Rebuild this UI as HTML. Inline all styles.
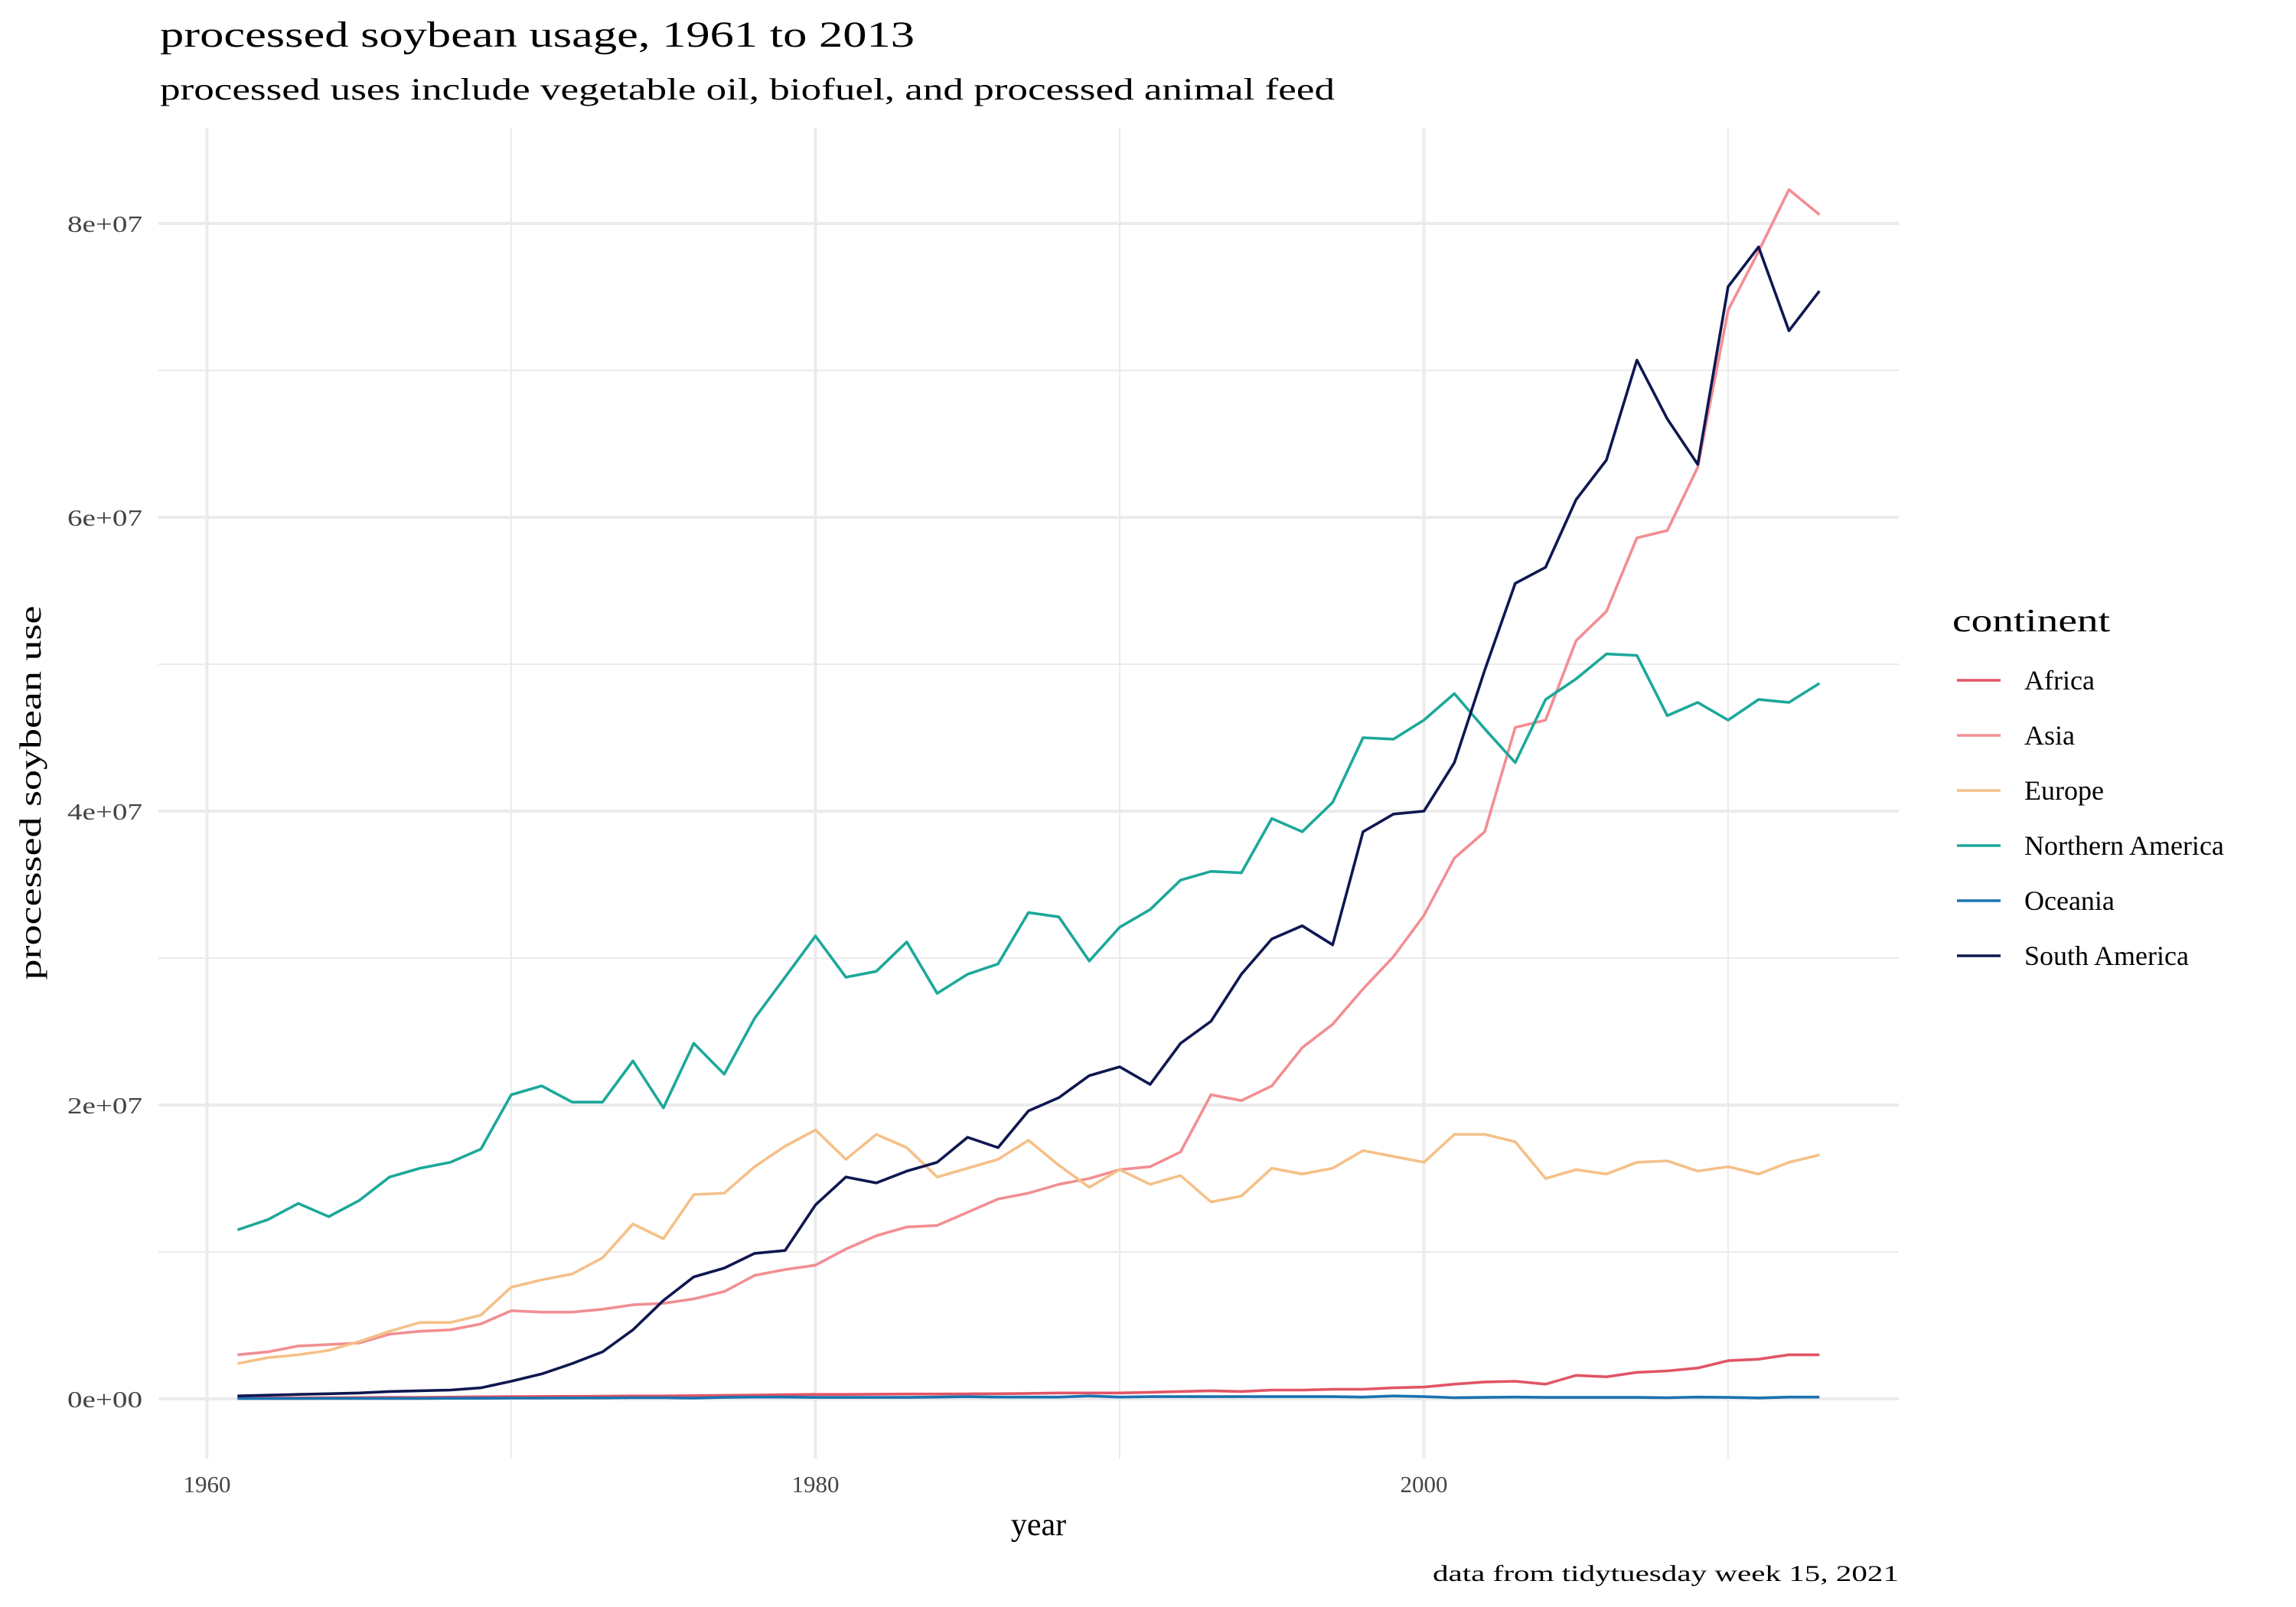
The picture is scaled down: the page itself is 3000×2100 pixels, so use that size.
<!DOCTYPE html>
<html><head><meta charset="utf-8"><style>
html,body{margin:0;padding:0;background:#fff;}
svg{display:block;font-family:"Liberation Serif",serif;}
</style></head><body>
<svg id="chart" width="3000" height="2100" viewBox="0 0 3000 2100" xmlns="http://www.w3.org/2000/svg">
<text x="209" y="61" font-size="48" fill="#000" textLength="986" lengthAdjust="spacingAndGlyphs">processed soybean usage, 1961 to 2013</text>
<text x="209" y="130" font-size="40" fill="#000" textLength="1535" lengthAdjust="spacingAndGlyphs">processed uses include vegetable oil, biofuel, and processed animal feed</text>
<g id="grid"></g>
<g id="series"></g>
<g id="axes"></g>
<text x="1357" y="2028" font-size="42" text-anchor="middle" fill="#000" transform="translate(0,-22)">year</text>
<text transform="translate(53,1036) rotate(-90)" font-size="40" text-anchor="middle" fill="#000" textLength="489" lengthAdjust="spacingAndGlyphs">processed soybean use</text>
<text x="2481" y="2066" font-size="30" text-anchor="end" fill="#000" textLength="609" lengthAdjust="spacingAndGlyphs">data from tidytuesday week 15, 2021</text>
<g id="legend">
<text x="2551" y="825" font-size="42" fill="#000" textLength="206" lengthAdjust="spacingAndGlyphs">continent</text>
</g>
</svg>
<script>
const years = [];
for (let y = 1961; y <= 2013; y++) years.push(y);
const seriesNames = ["Africa","Asia","Europe","Northern America","Oceania","South America"];
const seriesColors = ["#e15566","#f28e93","#f5c088","#1ca89a","#1a72b0","#0f1751"];
// values in millions
const africa = [0.05,0.06,0.07,0.08,0.09,0.1,0.1,0.12,0.14,0.15,0.16,0.17,0.18,0.2,0.2,0.22,0.24,0.26,0.28,0.3,0.3,0.32,0.33,0.33,0.34,0.35,0.37,0.4,0.4,0.4,0.45,0.5,0.55,0.5,0.6,0.6,0.65,0.65,0.75,0.8,1.0,1.15,1.2,1.0,1.6,1.5,1.8,1.9,2.1,2.6,2.7,3.0,3.0];
const asia = [3.0,3.2,3.6,3.7,3.8,4.4,4.6,4.7,5.1,6.0,5.9,5.9,6.1,6.4,6.5,6.8,7.3,8.4,8.8,9.1,10.2,11.1,11.7,11.8,12.7,13.6,14.0,14.6,15.0,15.6,15.8,16.8,20.7,20.3,21.3,23.9,25.5,27.9,30.1,32.9,36.8,38.6,45.7,46.2,51.6,53.6,58.6,59.1,63.4,74.1,78.1,82.3,80.6];
const europe = [2.4,2.8,3.0,3.3,3.9,4.6,5.2,5.2,5.7,7.6,8.1,8.5,9.6,11.9,10.9,13.9,14.0,15.8,17.2,18.3,16.3,18.0,17.1,15.1,15.7,16.3,17.6,15.9,14.4,15.6,14.6,15.2,13.4,13.8,15.7,15.3,15.7,16.9,16.5,16.1,18.0,18.0,17.5,15.0,15.6,15.3,16.1,16.2,15.5,15.8,15.3,16.1,16.6];
const northernAmerica = [11.5,12.2,13.3,12.4,13.5,15.1,15.7,16.1,17.0,20.7,21.3,20.2,20.2,23.0,19.8,24.2,22.1,25.9,28.7,31.5,28.7,29.1,31.1,27.6,28.9,29.6,33.1,32.8,29.8,32.1,33.3,35.3,35.9,35.8,39.5,38.6,40.6,45.0,44.9,46.2,48.0,45.6,43.3,47.6,49.0,50.7,50.6,46.5,47.4,46.2,47.6,47.4,48.7];
const oceania = [0.02,0.02,0.02,0.03,0.03,0.03,0.03,0.04,0.04,0.05,0.05,0.06,0.06,0.08,0.08,0.05,0.1,0.12,0.12,0.1,0.1,0.1,0.1,0.12,0.15,0.12,0.12,0.12,0.2,0.12,0.15,0.15,0.15,0.15,0.15,0.15,0.15,0.12,0.2,0.15,0.08,0.1,0.12,0.1,0.1,0.1,0.1,0.08,0.12,0.1,0.06,0.12,0.12];
const southAmerica = [0.2,0.25,0.3,0.35,0.4,0.5,0.55,0.6,0.75,1.2,1.7,2.4,3.2,4.7,6.7,8.3,8.9,9.9,10.1,13.2,15.1,14.7,15.5,16.1,17.8,17.1,19.6,20.5,22.0,22.6,21.4,24.2,25.7,28.9,31.3,32.2,30.9,38.6,39.8,40.0,43.3,49.6,55.5,56.6,61.2,63.9,70.7,66.7,63.6,75.7,78.4,72.7,75.4];
const seriesValues = [africa, asia, europe, northernAmerica, oceania, southAmerica];
const yTicks = [0,20,40,60,80];
const yTickLabels = ["0e+00","2e+07","4e+07","6e+07","8e+07"];
const xTicks = [1960,1980,2000];
const xTickLabels = ["1960","1980","2000"];

const NS = "http://www.w3.org/2000/svg";
const P = {left:207, right:2481, top:167, bottom:1906};
function xs(y){ return 270.5 + (y - 1960) * 39.75; }
function ys(v){ return 1828 - v * 19.2; }
function mk(tag, attrs, parent){
  const e = document.createElementNS(NS, tag);
  for (const k in attrs) e.setAttribute(k, attrs[k]);
  parent.appendChild(e); return e;
}
const grid = document.getElementById('grid');
for (let v = 10; v <= 90; v += 20) {
  if (ys(v) < P.top) continue;
  const l = mk('line',{x1:P.left,x2:P.right,y1:ys(v),y2:ys(v),stroke:'#ebebeb','stroke-width':2},grid);
  
  
}
for (const yr of [1970,1990,2010]) {
  const l = mk('line',{x1:xs(yr),x2:xs(yr),y1:P.top,y2:P.bottom,stroke:'#ebebeb','stroke-width':2},grid);
  
  
}
for (const v of yTicks) {
  const l = mk('line',{x1:P.left,x2:P.right,y1:ys(v),y2:ys(v),stroke:'#ebebeb','stroke-width':4},grid);
  
  
}
for (const yr of xTicks) {
  const l = mk('line',{x1:xs(yr),x2:xs(yr),y1:P.top,y2:P.bottom,stroke:'#ebebeb','stroke-width':4},grid);
  
  
}
const axes = document.getElementById('axes');
yTicks.forEach((v,i) => {
  const t = mk('text',{x:186,y:ys(v)+11,'font-size':31,'text-anchor':'end',fill:'#444',textLength:98,lengthAdjust:'spacingAndGlyphs'},axes);
  t.textContent = yTickLabels[i];
  
  
});
xTicks.forEach((yr,i) => {
  const t = mk('text',{x:xs(yr),y:1950,'font-size':31,'text-anchor':'middle',fill:'#444'},axes);
  t.textContent = xTickLabels[i];
  
  
});
const sg = document.getElementById('series');
seriesValues.forEach((vals, si) => {
  const d = vals.map((v,i) => (i ? 'L' : 'M') + xs(years[i]).toFixed(1) + ',' + ys(v).toFixed(1)).join(' ');
  const p = mk('path',{d:d,fill:'none',stroke:seriesColors[si],'stroke-width':3.6,'stroke-linejoin':'round'},sg);
  
  
});
const lg = document.getElementById('legend');
seriesNames.forEach((n, i) => {
  const y = 889 + i * 72;
  const g = mk('g',{},lg);
  
  
  mk('line',{x1:2557,x2:2614,y1:y,y2:y,stroke:seriesColors[i],'stroke-width':3.6},g);
  const t = mk('text',{x:2645,y:y+12,'font-size':36,fill:'#000'},g);
  t.textContent = n;
});
</script>
</body></html>
